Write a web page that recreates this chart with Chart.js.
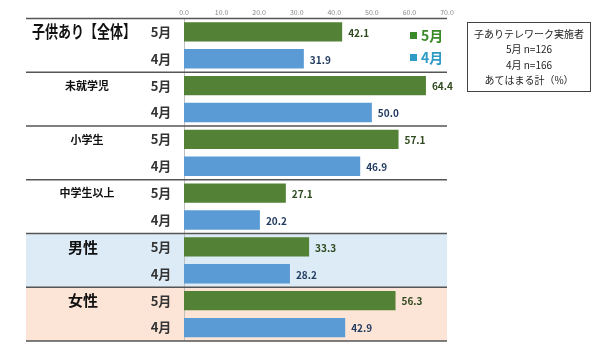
<!DOCTYPE html>
<html>
<head>
<meta charset="utf-8">
<script src="https://cdn.jsdelivr.net/npm/chart.js@4"></script>
<style>
  html, body { margin: 0; padding: 0; background: #fff; }
  #wrap { width: 600px; height: 350px; }
</style>
</head>
<body>
<div id="wrap"><canvas id="chart" width="600" height="350"></canvas></div>
<script>
// groups (left labels), months and values per group
const groups = ["子供あり【全体】", "未就学児", "小学生", "中学生以上", "男性", "女性"];
const months = ["5月", "4月"];
const mayValues = [42.1, 64.4, 57.1, 27.1, 33.3, 56.3];
const aprValues = [31.9, 50.0, 46.9, 20.2, 28.2, 42.9];
const boxLines = ["子ありテレワーク実施者", "5月 n=126", "4月 n=166", "あてはまる計（%）"];

const FONT = "'Noto Sans CJK JP', 'Noto Sans', sans-serif";
const GREEN = "#538135";
const BLUE = "#5b9bd5";

// build rows: each group gets a 5月 row then a 4月 row
const rowLabels = [];
const rowValues = [];
const rowColors = [];
groups.forEach((g, i) => {
    rowLabels.push(g + " " + months[0]);
    rowValues.push(mayValues[i]);
    rowColors.push(GREEN);
    rowLabels.push(g + " " + months[1]);
    rowValues.push(aprValues[i]);
    rowColors.push(BLUE);
});

// group label styles
const groupStyle = [
    { size: 17, x: 32, align: "left", maxW: 104 },
    { size: 11, x: 87, align: "center" },
    { size: 11, x: 87, align: "center" },
    { size: 11, x: 87, align: "center" },
    { size: 15, x: 83, align: "center" },
    { size: 15, x: 83, align: "center" },
];
const groupBg = [null, null, null, null, "#ddebf7", "#fce4d6"];

const tablePlugin = {
    id: "table",
    beforeDatasetsDraw(chart) {
        const ctx = chart.ctx;
        const y = chart.scales.y;
        const area = chart.chartArea;
        const half = (y.getPixelForValue(1) - y.getPixelForValue(0)) / 2;
        ctx.save();
        groups.forEach((g, i) => {
            if (!groupBg[i]) return;
            const top = y.getPixelForValue(i * 2) - half;
            const bot = y.getPixelForValue(i * 2 + 1) + half;
            ctx.fillStyle = groupBg[i];
            ctx.fillRect(26, top, area.right - 26, bot - top);
        });
        // vertical axis line
        ctx.strokeStyle = "#bfbfbf";
        ctx.lineWidth = 1;
        ctx.beginPath();
        ctx.moveTo(area.left + 0.5, area.top);
        ctx.lineTo(area.left + 0.5, area.bottom);
        ctx.stroke();
        ctx.restore();
    },
    afterDatasetsDraw(chart) {
        const ctx = chart.ctx;
        const y = chart.scales.y;
        const x = chart.scales.x;
        const area = chart.chartArea;
        const half = (y.getPixelForValue(1) - y.getPixelForValue(0)) / 2;
        ctx.save();

        // separators
        ctx.strokeStyle = "#555";
        ctx.lineWidth = 1.5;
        for (let i = 0; i <= groups.length; i++) {
            const py = i < groups.length ? y.getPixelForValue(i * 2) - half : y.getPixelForValue(i * 2 - 1) + half;
            ctx.beginPath();
            ctx.moveTo(26, py);
            ctx.lineTo(area.right, py);
            ctx.stroke();
        }

        // group + month labels
        ctx.textBaseline = "middle";
        groups.forEach((g, i) => {
            const s = groupStyle[i];
            ctx.fillStyle = "#111";
            ctx.font = "bold " + s.size + "px " + FONT;
            ctx.textAlign = s.align;
            if (s.maxW) ctx.fillText(g, s.x, y.getPixelForValue(i * 2), s.maxW);
            else ctx.fillText(g, s.x, y.getPixelForValue(i * 2));
        });
        ctx.font = "bold 13px " + FONT;
        ctx.fillStyle = "#333";
        ctx.textAlign = "center";
        rowLabels.forEach((l, i) => {
            ctx.fillText(months[i % 2], 161, y.getPixelForValue(i));
        });

        // value labels
        ctx.font = "bold 10px " + FONT;
        ctx.textAlign = "left";
        rowValues.forEach((v, i) => {
            ctx.fillStyle = i % 2 === 0 ? "#2f4a1f" : "#1f3a5f";
            ctx.fillText(v.toFixed(1), x.getPixelForValue(v) + 6, y.getPixelForValue(i) + 1);
        });

        // legend
        ctx.font = "bold 14px " + FONT;
        ctx.fillStyle = "#3a8a2a";
        ctx.fillRect(410, 32, 7, 7);
        ctx.fillText("5月", 421, 36);
        ctx.fillStyle = "#2e9bc6";
        ctx.fillRect(410, 54, 7, 7);
        ctx.fillText("4月", 421, 58);

        // note box
        ctx.strokeStyle = "#444";
        ctx.lineWidth = 1;
        ctx.strokeRect(467.5, 22.5, 123, 69);
        ctx.fillStyle = "#222";
        ctx.font = "10px " + FONT;
        ctx.textAlign = "center";
        boxLines.forEach((t, i) => {
            ctx.fillText(t, 529, 34 + i * 15.5);
        });
        ctx.restore();
    }
};

new Chart(document.getElementById("chart"), {
    type: "bar",
    data: {
        labels: rowLabels,
        datasets: [{
            data: rowValues,
            backgroundColor: rowColors,
            barPercentage: 0.72,
            categoryPercentage: 1.0,
        }],
    },
    options: {
        indexAxis: "y",
        responsive: false,
        animation: false,
        layout: { padding: { left: 184, right: 153, top: 6, bottom: 9 } },
        plugins: { legend: { display: false }, tooltip: { enabled: false } },
        scales: {
            x: {
                position: "top",
                min: 0,
                max: 70,
                ticks: {
                    stepSize: 10,
                    padding: 2,
                    color: "#888",
                    font: { family: FONT, size: 7 },
                    callback: (v) => Number(v).toFixed(1),
                },
                grid: { display: false, drawTicks: false },
                border: { display: false },
            },
            y: {
                display: false,
                grid: { display: false },
            },
        },
    },
    plugins: [tablePlugin],
});
</script>
</body>
</html>
